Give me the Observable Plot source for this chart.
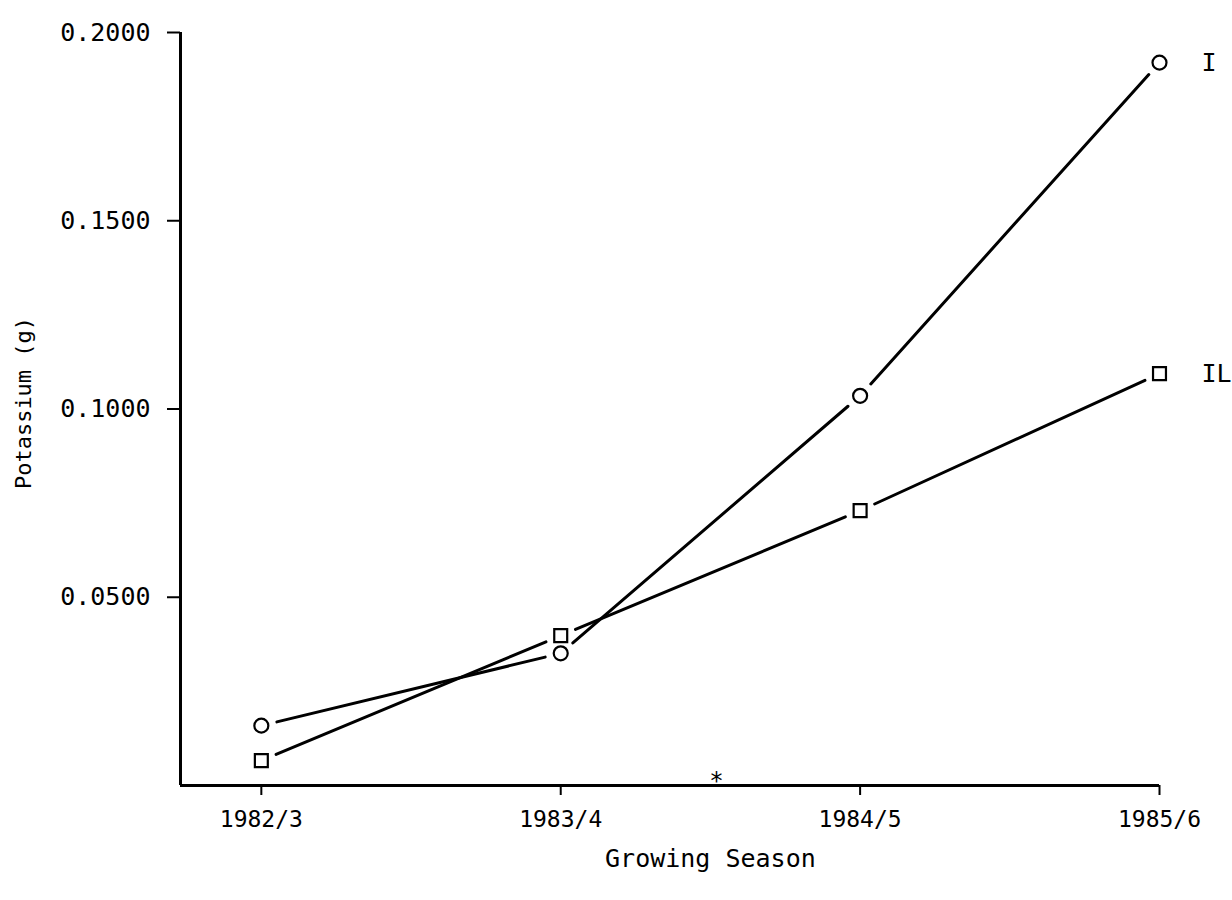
<!DOCTYPE html>
<html>
<head>
<meta charset="utf-8">
<script src="https://cdn.jsdelivr.net/npm/d3@7"></script>
<script src="https://cdn.jsdelivr.net/npm/@observablehq/plot@0.6"></script>
<style>
  body { margin: 0; background: #fff; }
  #chart svg { display: block; }
</style>
</head>
<body>
<div id="chart"></div>
<script>
// Potassium content (g) per growing season for treatments I and IL
const seasons = ["1982/3", "1983/4", "1984/5", "1985/6"];
const potassiumI = [0.0159, 0.0351, 0.1035, 0.1920];
const potassiumIL = [0.0066, 0.0398, 0.0730, 0.1094];
const seriesNames = ["I", "IL"];
const yTicks = [0.05, 0.10, 0.15, 0.20];
const xTitle = "Growing Season";
const yTitle = "Potassium (g)";
// asterisk marking the interval between 1983/4 and 1984/5
const starPosition = [1.52];

const series = [
  {name: seriesNames[0], values: potassiumI, symbol: "circle"},
  {name: seriesNames[1], values: potassiumIL, symbol: "square"}
];

// points and connecting segments, x is the season index
const points = series.flatMap(s => s.values.map((v, i) => ({series: s.name, symbol: s.symbol, i, v})));
const segments = series.flatMap(s =>
  s.values.slice(1).map((v, k) => ({series: s.name, x1: k, y1: s.values[k], x2: k + 1, y2: v}))
);
const endLabels = series.map(s => ({name: s.name, i: s.values.length - 1, v: s.values[s.values.length - 1]}));

const xDomain = [-0.27, 3.0];
const yDomain = [0, 0.2];
const font = "DejaVu Sans Mono, Liberation Mono, monospace";

const chart = Plot.plot({
  width: 1232,
  height: 900,
  marginLeft: 180,
  marginRight: 73,
  marginTop: 32,
  marginBottom: 115,
  style: {fontFamily: font, color: "black", background: "white", overflow: "visible"},
  x: {domain: xDomain, axis: null},
  y: {domain: yDomain, axis: null},
  marks: [
    // axis lines
    Plot.ruleX([xDomain[0]], {y1: yDomain[0], y2: yDomain[1], stroke: "black", strokeWidth: 3}),
    Plot.ruleY([yDomain[0]], {stroke: "black", strokeWidth: 3}),
    Plot.axisY({
      ticks: yTicks,
      tickFormat: d3.format(".4f"),
      tickSize: 13,
      tickPadding: 17,
      fontSize: 25,
      strokeWidth: 2,
      label: null
    }),
    Plot.axisX({
      ticks: d3.range(seasons.length),
      tickFormat: i => seasons[i],
      tickSize: 10,
      tickPadding: 15,
      fontSize: 23,
      strokeWidth: 2,
      label: null
    }),
    // axis titles
    Plot.text([yTitle], {
      frameAnchor: "left", textAnchor: "middle", lineAnchor: "middle",
      text: d => d, rotate: -90, dx: -157, dy: -6, fontSize: 22
    }),
    Plot.text([xTitle], {
      x: (seasons.length - 1) / 2, frameAnchor: "bottom", lineAnchor: "middle",
      text: d => d, dy: 73, fontSize: 25
    }),
    // connecting lines, stopping short of the markers
    Plot.arrow(segments, {
      x1: "x1", y1: "y1", x2: "x2", y2: "y2",
      headLength: 0, inset: 16, stroke: "black", strokeWidth: 3
    }),
    Plot.dot(points.filter(d => d.symbol === "circle"), {
      x: "i", y: "v", symbol: "circle", r: 7,
      fill: "white", stroke: "black", strokeWidth: 2.2
    }),
    Plot.dot(points.filter(d => d.symbol === "square"), {
      x: "i", y: "v", symbol: "square", r: 7.3,
      fill: "white", stroke: "black", strokeWidth: 2.2
    }),
    Plot.text(endLabels, {
      x: "i", y: "v", text: "name", textAnchor: "start", dx: 42, fontSize: 25
    }),
    Plot.text(starPosition, {
      x: d => d, frameAnchor: "bottom", lineAnchor: "middle",
      text: () => "*", dy: -4, fontSize: 24
    })
  ]
});

document.getElementById("chart").appendChild(chart);
</script>
</body>
</html>
